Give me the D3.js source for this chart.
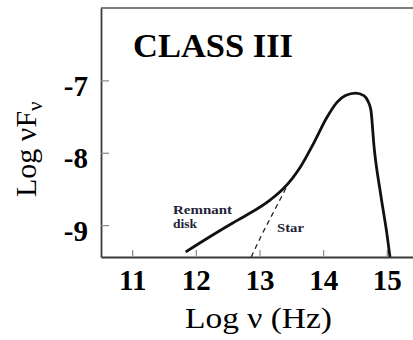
<!DOCTYPE html>
<html>
<head>
<meta charset="utf-8">
<script src="https://cdn.jsdelivr.net/npm/d3@7"></script>
<style>
  html, body { margin: 0; padding: 0; background: #fff; }
  svg { display: block; }
  text { font-family: "Liberation Serif", "Times New Roman", serif; }
</style>
</head>
<body>
<script>
// Spectral energy distribution of a Class III young stellar object
const title = "CLASS III";
const xTicks = [11, 12, 13, 14, 15];
const yTicks = [-7, -8, -9];

// Total SED (star + remnant disk): log nu [Hz], log nuFnu
const sedLogNu   = [11.84, 12.22, 12.58, 12.74, 13.17, 13.38, 13.51, 13.64, 13.85, 14.06, 14.22, 14.35, 14.51, 14.64, 14.70, 14.75, 14.80, 14.91, 15.00, 15.05];
const sedLogFlux = [-9.37, -9.16, -8.97, -8.89, -8.65, -8.49, -8.36, -8.20, -7.87, -7.51, -7.30, -7.21, -7.175, -7.21, -7.28, -7.41, -7.92, -8.61, -9.11, -9.44];

// Stellar photosphere alone (dashed)
const starLogNu   = [12.87, 13.01, 13.25, 13.48];
const starLogFlux = [-9.44, -9.18, -8.77, -8.38];

const W = 413, H = 340;
const margin = { left: 101, top: 8, right: -12, bottom: 83 };

const svg = d3.select("body").append("svg")
  .attr("width", W).attr("height", H);

const x = d3.scaleLinear().domain([10.51, 15.6]).range([margin.left, W - margin.right]);
const y = d3.scaleLinear().domain([-9.44, -6.0]).range([H - margin.bottom, margin.top]);

const axisColor = "#3a3a3a";
const tickColor = "#8a8a8a";
const serif = "'Liberation Serif', 'Times New Roman', serif";

// top border of the frame
svg.append("line")
  .attr("x1", x.range()[0]).attr("x2", x.range()[1])
  .attr("y1", y.range()[1]).attr("y2", y.range()[1])
  .attr("stroke", "#555").attr("stroke-width", 1.5);

// x axis
const gx = svg.append("g")
  .attr("transform", `translate(0,${y.range()[0]})`)
  .call(d3.axisBottom(x).tickValues(xTicks).tickSizeInner(-7).tickSizeOuter(0).tickFormat(d3.format("d")))
  .attr("font-family", serif);
gx.select(".domain").attr("stroke", axisColor).attr("stroke-width", 1.8);
gx.selectAll(".tick line").attr("stroke", tickColor).attr("stroke-width", 1.2);
gx.selectAll(".tick text")
  .attr("y", 33).attr("dy", null)
  .attr("fill", "#000")
  .style("font-family", serif)
  .style("font-weight", "bold").style("font-size", "29px");

// y axis
const gy = svg.append("g")
  .attr("transform", `translate(${x.range()[0]},0)`)
  .call(d3.axisLeft(y).tickValues(yTicks).tickSizeInner(-8).tickSizeOuter(0).tickFormat(d => "-" + Math.abs(d)))
  .attr("font-family", serif);
gy.select(".domain").attr("stroke", axisColor).attr("stroke-width", 1.8);
gy.selectAll(".tick line").attr("stroke", tickColor).attr("stroke-width", 1.2);
gy.selectAll(".tick text")
  .attr("x", -13).attr("dy", 15)
  .attr("fill", "#000")
  .style("font-family", serif)
  .style("font-weight", "bold").style("font-size", "29px");

// clip to the plotting region
svg.append("clipPath").attr("id", "plot")
  .append("rect")
  .attr("x", x.range()[0]).attr("y", y.range()[1])
  .attr("width", x.range()[1] - x.range()[0])
  .attr("height", y.range()[0] - y.range()[1]);

const line = d3.line()
  .x(d => x(d[0])).y(d => y(d[1]))
  .curve(d3.curveMonotoneX);

svg.append("path")
  .datum(starLogNu.map((v, i) => [v, starLogFlux[i]]))
  .attr("clip-path", "url(#plot)")
  .attr("fill", "none").attr("stroke", "#222")
  .attr("stroke-width", 1.3).attr("stroke-dasharray", "5,4")
  .attr("d", line);

svg.append("path")
  .datum(sedLogNu.map((v, i) => [v, sedLogFlux[i]]))
  .attr("clip-path", "url(#plot)")
  .attr("fill", "none").attr("stroke", "#111")
  .attr("stroke-width", 2.8).attr("stroke-linejoin", "round")
  .attr("d", line);

// title
svg.append("text")
  .attr("x", 133).attr("y", 57)
  .attr("textLength", 160).attr("lengthAdjust", "spacingAndGlyphs")
  .style("font-weight", "bold").style("font-size", "33px")
  .attr("fill", "#000")
  .text(title);

// component labels
const labelColor = "#23233a";
svg.append("text").attr("x", 173).attr("y", 214)
  .attr("textLength", 59).attr("lengthAdjust", "spacingAndGlyphs")
  .style("font-weight", "bold").style("font-size", "13px").attr("fill", labelColor)
  .text("Remnant");
svg.append("text").attr("x", 173).attr("y", 228)
  .attr("textLength", 24).attr("lengthAdjust", "spacingAndGlyphs")
  .style("font-weight", "bold").style("font-size", "13px").attr("fill", labelColor)
  .text("disk");
svg.append("text").attr("x", 277).attr("y", 232)
  .attr("textLength", 27).attr("lengthAdjust", "spacingAndGlyphs")
  .style("font-weight", "bold").style("font-size", "13px").attr("fill", labelColor)
  .text("Star");

// x axis title
svg.append("text")
  .attr("x", 185).attr("y", 328)
  .attr("textLength", 147).attr("lengthAdjust", "spacingAndGlyphs")
  .style("font-size", "30px").attr("fill", "#000")
  .text("Log ν (Hz)");

// y axis title, rotated, with subscript nu
const yt = svg.append("text")
  .attr("transform", "translate(36,197) rotate(-90)")
  .style("font-size", "30px").attr("fill", "#000");
yt.append("tspan").text("Log νF");
yt.append("tspan").attr("dy", 6).style("font-size", "21px").text("ν");
</script>
</body>
</html>
